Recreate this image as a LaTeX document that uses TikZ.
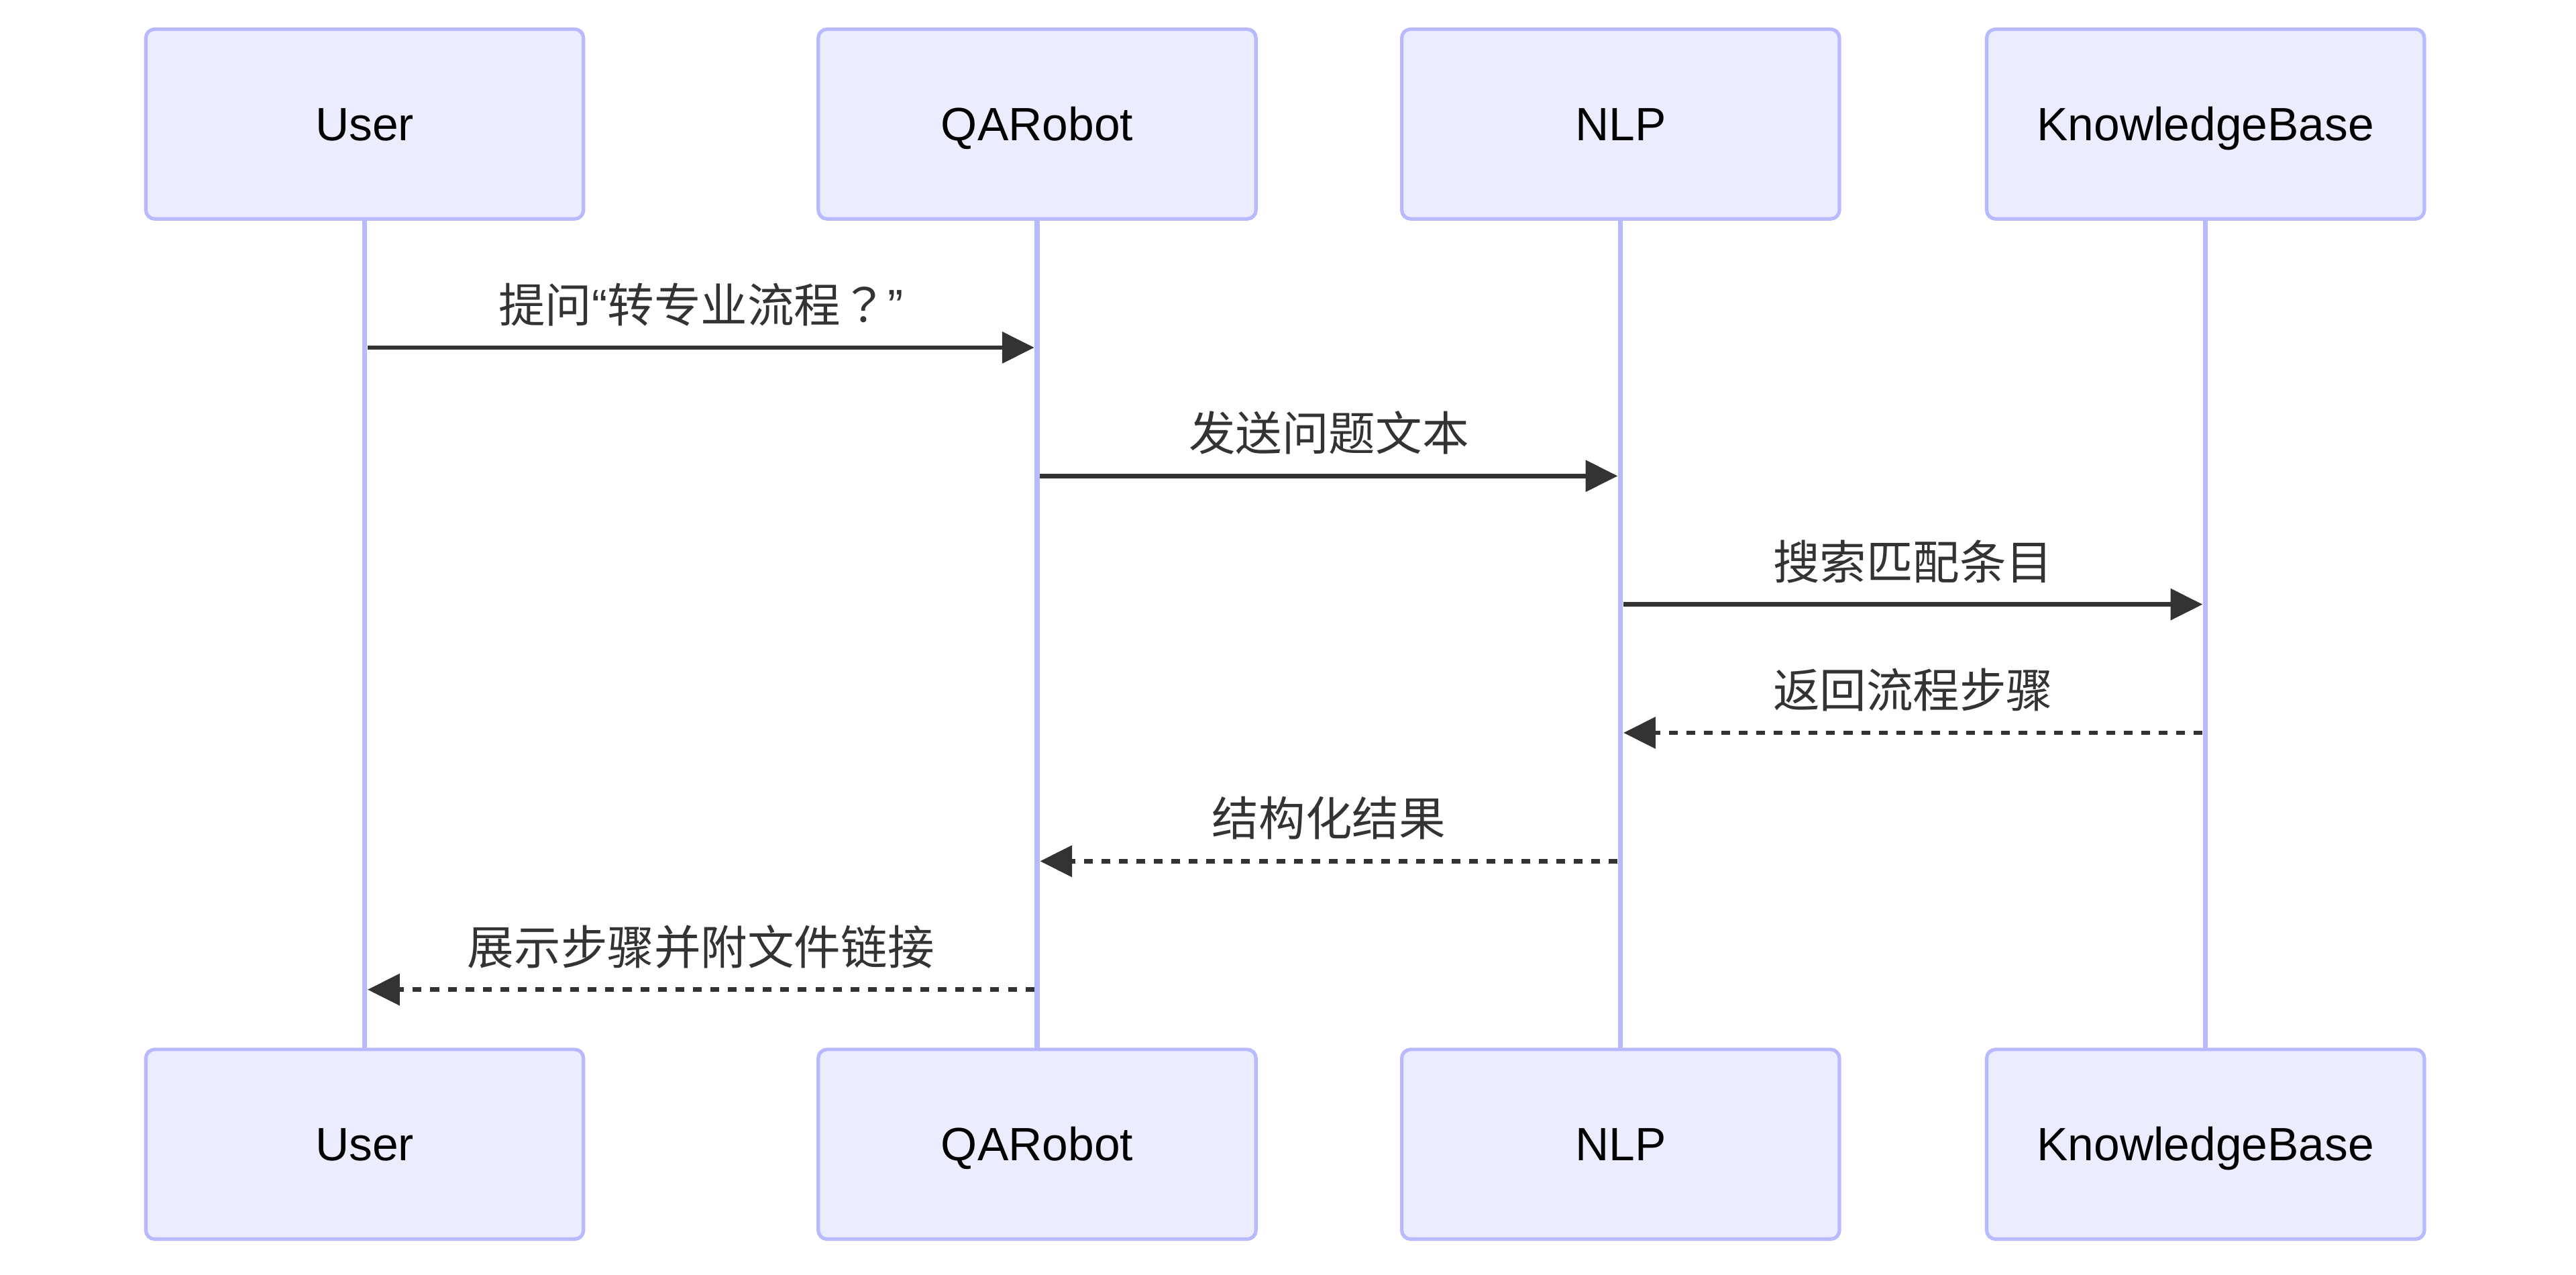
\documentclass[tikz,border=0pt]{standalone}
\usepackage{fontspec}
\setmainfont{Liberation Sans}
\newfontfamily\cjk{Noto Sans CJK SC}
\newfontfamily\cjkpunct{Noto Sans CJK TC}
\usepackage{tikz}
\usetikzlibrary{positioning,arrows.meta}

\definecolor{actorbg}{HTML}{ECECFF}
\definecolor{actorline}{HTML}{B9B9FF}
\definecolor{msgcol}{HTML}{333333}

\begin{document}
\begin{tikzpicture}[
  x=1pt, y=-1pt,
  actor/.style={rectangle, rounded corners=3pt, draw=actorline, line width=1.2pt, fill=actorbg, minimum width=150pt, minimum height=65pt, inner sep=0pt, outer sep=0pt, text height=11.2pt, text depth=0pt, font=\fontsize{16pt}{19pt}\selectfont},
  life/.style={draw=actorline, line width=1.7pt},
  msg/.style={draw=msgcol, line width=1.5pt, -{Triangle[length=11pt,width=10.6pt]}, shorten <=1pt, shorten >=1pt},
  reply/.style={msg, dash pattern=on 3pt off 3pt},
  lbl/.style={anchor=base, yshift=8.6pt, inner sep=0pt, text=msgcol, font=\cjk\fontsize{16pt}{19pt}\selectfont}
]
\fill[white] (0,0) rectangle (883,436.7);

% participants, top row
\node[actor] (user) at (125,42.5) {User};
\node[actor, right=80.5pt of user] (qa) {QARobot};
\node[actor, right=50pt of qa] (nlp) {NLP};
\node[actor, right=50.5pt of nlp] (kb) {KnowledgeBase};

% participants, bottom row
\node[actor, below=284.6pt of user] (userB) {User};
\node[actor, below=284.6pt of qa] (qaB) {QARobot};
\node[actor, below=284.6pt of nlp] (nlpB) {NLP};
\node[actor, below=284.6pt of kb] (kbB) {KnowledgeBase};

% lifelines
\draw[life] (user) -- (userB);
\draw[life] (qa) -- (qaB);
\draw[life] (nlp) -- (nlpB);
\draw[life] (kb) -- (kbB);

% message rows
\coordinate (r1) at (0,119.1);
\coordinate (r2) at (0,163.1);
\coordinate (r3) at (0,207.1);
\coordinate (r4) at (0,251.1);
\coordinate (r5) at (0,295.1);
\coordinate (r6) at (0,339.1);

\draw[msg] (user |- r1) -- node[lbl] (t1) {提问\textrm{“}转专业流程{\cjkpunct ？}\textrm{”}} (qa |- r1);
\draw[msg] (qa |- r2) -- node[lbl] (t2) {发送问题文本} (nlp |- r2);
\draw[msg] (nlp |- r3) -- node[lbl] (t3) {搜索匹配条目} (kb |- r3);
\draw[reply] (kb |- r4) -- node[lbl] (t4) {返回流程步骤} (nlp |- r4);
\draw[reply] (nlp |- r5) -- node[lbl] (t5) {结构化结果} (qa |- r5);
\draw[reply] (qa |- r6) -- node[lbl] (t6) {展示步骤并附文件链接} (user |- r6);

\end{tikzpicture}
\end{document}
